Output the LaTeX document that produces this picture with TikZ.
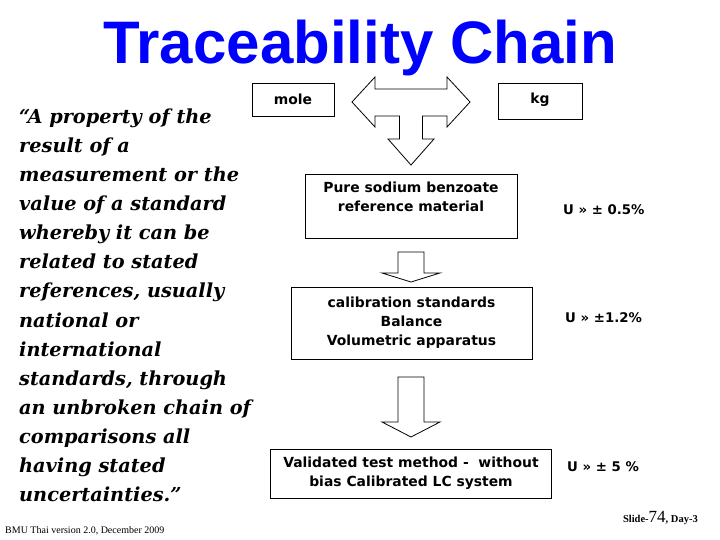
\documentclass[tikz,border=0pt]{standalone}
\usepackage{fontspec}
\setmainfont{Liberation Serif}
\newfontfamily\headfont{Liberation Sans}
\newfontfamily\boxfont{DejaVu Sans}
\newfontfamily\quotefont{DejaVu Serif}
\usepackage{tikz}
\usetikzlibrary{positioning}

\begin{document}
\begin{tikzpicture}[x=1pt,y=-1pt,
        box/.style={draw, line width=0.8pt, inner sep=0pt, align=center,
            font=\boxfont\bfseries\fontsize{13.9}{19}\selectfont},
        ulabel/.style={anchor=west, inner sep=0pt,
            font=\boxfont\bfseries\fontsize{13.3}{15}\selectfont},
        quoteline/.style={anchor=base west, inner sep=0pt,
            font=\quotefont\bfseries\itshape\fontsize{19.3}{23}\selectfont},
        blockarrow/.style={draw, line width=0.8pt, line join=miter}]

        % Slide frame (pixels of a 720x540 slide):
        \useasboundingbox (0,0) rectangle (720,540);

        % Title:
        \node [anchor=base, text=blue, font=\headfont\bfseries\fontsize{60}{66}\selectfont]
            (title) at (360,63.5) {Traceability Chain};

        % Quote on the left, one node per line:
        \foreach \line [count=\i] in {{“A property of the},{result of a},
                {measurement or the},{value of a standard},{whereby it can be},
                {related to stated},{references, usually},{national or},
                {international},{standards, through},{an unbroken chain of},
                {comparisons all},{having stated},{uncertainties.”}}{%
            \node [quoteline] (q\i) at (19,{94.2 + 29.1*\i}) {\line};
        }

        % Units on top and the T-shaped block arrow between them:
        \node [box, minimum width=82pt, minimum height=33pt] (mole) at (293,99.5) {mole};
        \node [box, minimum width=84pt, minimum height=36pt, text depth=6pt] (kg) at (540,101) {kg};
        \draw [blockarrow] (352,102) -- (375,77) -- (375,89) -- (447,89) -- (447,77)
            -- (470,102) -- (447,127) -- (447,116) -- (422.5,116) -- (422.5,139)
            -- (434,139) -- (411,165) -- (388,139) -- (399.5,139) -- (399.5,116)
            -- (375,116) -- (375,127) -- cycle;

        % The chain:
        \node [box, minimum width=212pt, minimum height=64pt] (pure) at (411,206)
            {Pure sodium benzoate\\reference material\\\mbox{}};
        \node [box, minimum width=241pt, minimum height=72pt] (calib) at (411.5,323)
            {calibration standards\\Balance\\Volumetric apparatus};
        \node [box, minimum width=281pt, minimum height=49pt] (valid) at (411,473.5)
            {Validated test method -\ \ without\\bias Calibrated LC system};

        % Down arrows between the boxes:
        \foreach \ytop/\ybar/\ytip in {252/273/282, 377/422/437}{%
            \draw [blockarrow] (398,\ytop) -- (424,\ytop) -- (424,\ybar) -- (440,\ybar)
                -- (411,\ytip) -- (382,\ybar) -- (398,\ybar) -- cycle;
        }

        % Uncertainties:
        \node [ulabel] (upure)  at (563,210) {U » ± 0.5\%};
        \node [ulabel] (ucalib) at (565,318) {U » ±1.2\%};
        \node [ulabel] (uvalid) at (567,467) {U » ± 5 \%};

        % Footers:
        \node [anchor=base west, inner sep=0pt, font=\fontsize{10}{12}\selectfont]
            (version) at (5,533) {BMU Thai version 2.0, December 2009};
        \node [anchor=base east, inner sep=0pt, font=\bfseries\fontsize{10.5}{12}\selectfont]
            (slideno) at (698,522) {Slide-{\mdseries\fontsize{17}{17}\selectfont 74}, Day-3};
\end{tikzpicture}
\end{document}
